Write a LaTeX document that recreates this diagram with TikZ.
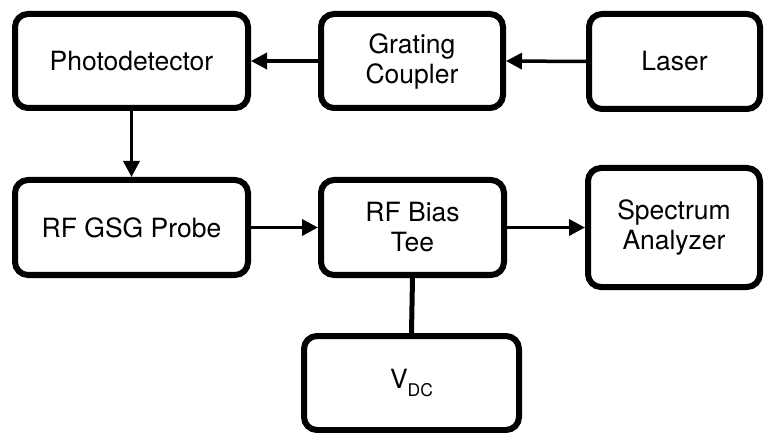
\documentclass[tikz,border=0pt]{standalone}
\usepackage{fontspec}
\setmainfont{TeX Gyre Heros}
\usetikzlibrary{arrows.meta}
\begin{document}
\begin{tikzpicture}[x=1pt,y=-1pt,
  blockbox/.style={draw=black, line width=6pt, rounded corners=13pt, fill=white,
    align=center, inner sep=0pt, font=\fontsize{26.5}{30}\selectfont},
  conn/.style={line width=3.5pt, -{Triangle[length=16pt,width=16pt]}},
  plainconn/.style={line width=5pt}]
\useasboundingbox (0,0) rectangle (764,433);
\node[blockbox, minimum width=233pt, minimum height=94pt] (pd) at (131.5,61) {Photodetector};
\node[blockbox, minimum width=182pt, minimum height=94pt] (gc) at (412,61) {Grating\\Coupler};
\node[blockbox, minimum width=171pt, minimum height=95pt] (laser) at (674.5,61.5) {Laser};
\node[blockbox, minimum width=233pt, minimum height=95pt] (gsg) at (131.5,227.5) {RF GSG Probe};
\node[blockbox, minimum width=183pt, minimum height=95pt] (tee) at (412.5,227.5) {RF Bias\\Tee};
\node[blockbox, minimum width=172pt, minimum height=119pt] (sa) at (674,227.5) {Spectrum\\Analyzer};
\node[blockbox, minimum width=215pt, minimum height=94pt] (vdc) at (411.5,383) {V\raisebox{-0.32em}{\fontsize{17.5}{17.5}\selectfont DC}};
\draw[conn] (laser.west) -- (gc.east);
\draw[conn] (gc.west) -- (pd.east);
\draw[conn] (pd.south) -- (gsg.north);
\draw[conn] (gsg.east) -- (tee.west);
\draw[conn] (tee.east) -- (sa.west);
\draw[plainconn] (tee.south) -- (vdc.north);
\end{tikzpicture}
\end{document}
